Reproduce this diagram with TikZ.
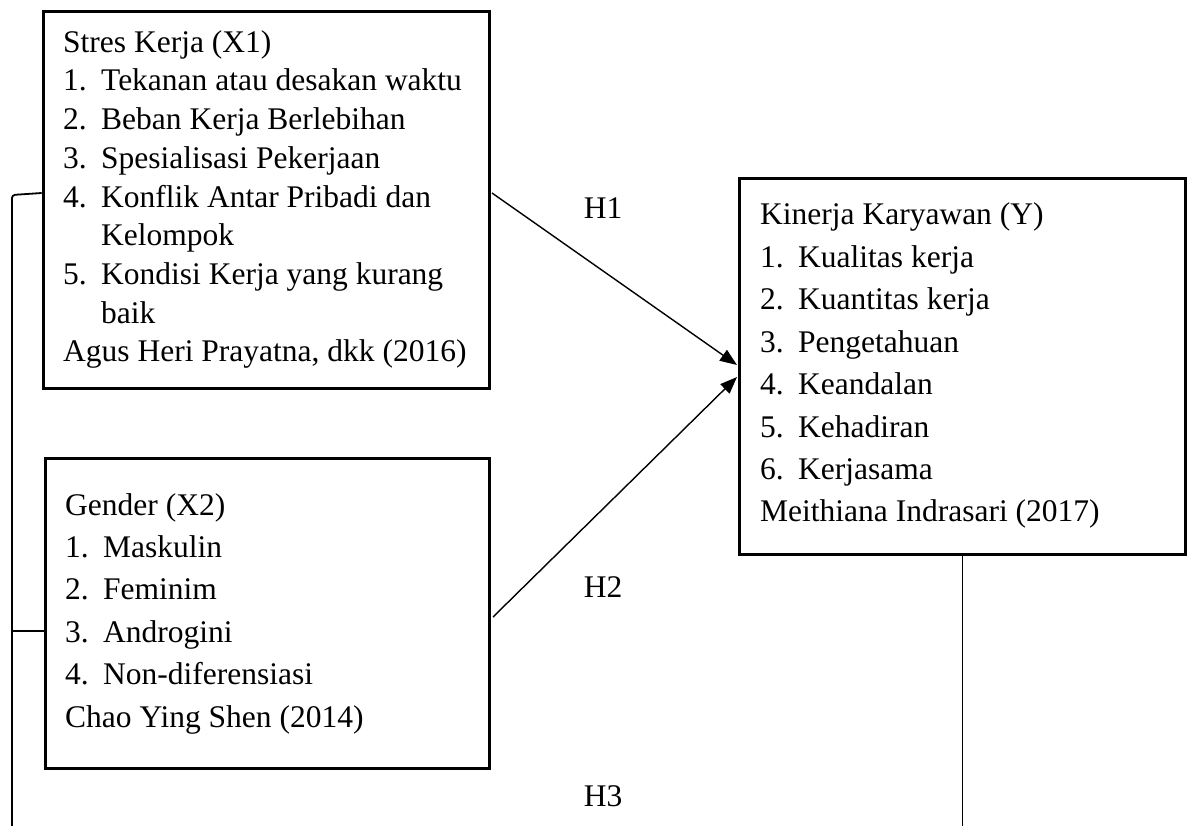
\documentclass[tikz,border=0pt]{standalone}
\usepackage{fontspec}
\setmainfont{Liberation Serif}
\usetikzlibrary{arrows.meta}
\newcommand{\itm}[2]{\makebox[38pt][l]{#1}#2}
\begin{document}
\begin{tikzpicture}[x=1pt,y=-1pt,
  box/.style={draw, line width=3pt, rectangle, anchor=north west, inner sep=0pt},
  txt/.style={anchor=base west, inner sep=0pt, font=\fontsize{31.5}{38}\selectfont},
  conn/.style={line width=1.4pt},
  arr/.style={conn, -{Triangle[length=17pt,width=13pt]}},
  hlab/.style={anchor=base, inner sep=0pt, font=\fontsize{31.5}{38}\selectfont}]
\useasboundingbox (0,0) rectangle (1190,826);

% boxes
\node[box, minimum width=446.3pt, minimum height=376.5pt] (x1) at (41.7,10.5) {};
\node[box, minimum width=444pt, minimum height=310pt] (x2) at (44,457) {};
\node[box, minimum width=446pt, minimum height=376pt] (y) at (738,177) {};

% texts X1
\foreach[count=\i] \t in {{Stres Kerja (X1)},
  {\itm{1.}{Tekanan atau desakan waktu}},
  {\itm{2.}{Beban Kerja Berlebihan}},
  {\itm{3.}{Spesialisasi Pekerjaan}},
  {\itm{4.}{Konflik Antar Pribadi dan}},
  {\itm{}{Kelompok}},
  {\itm{5.}{Kondisi Kerja yang kurang}},
  {\itm{}{baik}},
  {Agus Heri Prayatna, dkk (2016)}}
  \node[txt] (x1l\i) at (63, {52.3+38.7*(\i-1)}) {\t};

% texts X2
\foreach[count=\i] \t in {{Gender (X2)},
  {\itm{1.}{Maskulin}},
  {\itm{2.}{Feminim}},
  {\itm{3.}{Androgini}},
  {\itm{4.}{Non-diferensiasi}},
  {Chao Ying Shen (2014)}}
  \node[txt] (x2l\i) at (65, {515+42.4*(\i-1)}) {\t};

% texts Y
\foreach[count=\i] \t in {{Kinerja Karyawan (Y)},
  {\itm{1.}{Kualitas kerja}},
  {\itm{2.}{Kuantitas kerja}},
  {\itm{3.}{Pengetahuan}},
  {\itm{4.}{Keandalan}},
  {\itm{5.}{Kehadiran}},
  {\itm{6.}{Kerjasama}},
  {Meithiana Indrasari (2017)}}
  \node[txt] (yl\i) at (760, {225+42.4*(\i-1)}) {\t};

% hypothesis labels
\node[hlab] (h1) at (603,219) {H1};
\node[hlab] (h2) at (603,597) {H2};
\node[hlab] (h3) at (603,806) {H3};

% arrows
\coordinate (h1s) at (492,193);
\coordinate (h1e) at (737,365);
\coordinate (h2s) at (493,617);
\coordinate (h2e) at (737,377);
\draw[arr] (h1s) -- (h1e);
\draw[arr] (h2s) -- (h2e);

% bracket
\coordinate (bt) at (12,195);
\coordinate (bm) at (12,631);
\coordinate (bb) at (12,826);
\draw[line width=1.8pt, rounded corners=3pt] (x1.west |- 0,193) -- (bt) -- (bb);
\draw[line width=1.8pt] (x2.west |- bm) -- (bm);

% line from Y
\coordinate (yb) at (961,826);
\draw[conn] (y.south) -- (y.south |- yb);
\end{tikzpicture}
\end{document}
